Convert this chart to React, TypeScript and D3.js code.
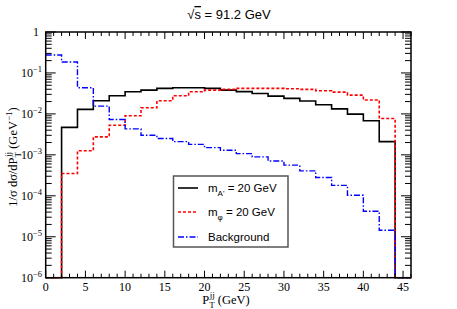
import React from "react";
import * as d3 from "d3";

const binEdges = [0, 2, 4, 6, 8, 10, 12, 14, 16, 18, 20, 22, 24, 26, 28, 30, 32, 34, 36, 38, 40, 42, 44, 46];
const signalA = [0, 0.0047, 0.0129, 0.021, 0.0277, 0.0347, 0.038, 0.042, 0.0435, 0.0435, 0.042, 0.038, 0.035, 0.0316, 0.0272, 0.024, 0.0206, 0.0167, 0.0133, 0.0099, 0.0068, 0.0021, 0];
const signalPhi = [0, 0.00035, 0.00126, 0.00275, 0.0053, 0.009, 0.0141, 0.021, 0.0277, 0.0347, 0.038, 0.0397, 0.042, 0.042, 0.042, 0.041, 0.0397, 0.0367, 0.034, 0.0288, 0.0219, 0.0077, 0];
const background = [0.274, 0.185, 0.0435, 0.0155, 0.0073, 0.0043, 0.003, 0.0025, 0.0021, 0.0018, 0.0015, 0.0013, 0.00107, 0.00089, 0.00071, 0.00056, 0.000407, 0.00028, 0.00018, 0.000103, 0.000042, 0.0000144, 0];
const xTicks = [0, 5, 10, 15, 20, 25, 30, 35, 40, 45];
const yDecades = [0, -1, -2, -3, -4, -5, -6];

const W = 457, H = 309;
const L = 45.7, R = 411, T = 32, B = 277.7;

export default function App() {
  const x = d3.scaleLinear().domain([0, 46]).range([L, R]);
  const y = d3.scaleLog().domain([1e-6, 1]).range([B, T]);
  const yMin = 1e-6;

  const histPath = (vals: number[]) => {
    const pts: [number, number][] = [];
    vals.forEach((v, i) => {
      const vv = Math.max(v, yMin);
      pts.push([x(binEdges[i]), y(vv)]);
      pts.push([x(binEdges[i + 1]), y(vv)]);
    });
    return d3.line()(pts) as string;
  };

  const xMinor = d3.range(0, 47, 1).filter((v) => v % 5 !== 0);
  const yMinor: number[] = [];
  for (let e = -6; e < 0; e++) for (let k = 2; k <= 9; k++) yMinor.push(k * Math.pow(10, e));

  const serif = "'Liberation Serif', 'DejaVu Serif', serif";
  const sans = "'Liberation Sans', Arial, sans-serif";

  const series = [
    { vals: signalA, color: "#000000", dash: "", width: 1.6 },
    { vals: signalPhi, color: "#ff0000", dash: "3,2", width: 1.6 },
    { vals: background, color: "#0000ff", dash: "6,2,1.5,2", width: 1.4 },
  ];

  return (
    <svg width={W} height={H} style={{ position: "absolute", left: 0, top: 0, background: "#fff" }}>
      <rect x={0} y={0} width={W} height={H} fill="#fff" />
      <defs>
        <clipPath id="plotclip">
          <rect x={L} y={T - 1} width={R - L} height={B - T + 2} />
        </clipPath>
      </defs>
      {/* title */}
      <text x={229} y={19} fontFamily={sans} fontSize={13} textAnchor="middle">
        √<tspan textDecoration="overline">s</tspan> = 91.2 GeV
      </text>

      {/* histograms */}
      <g clipPath="url(#plotclip)">
        {series.map((s, i) => (
          <path key={i} d={histPath(s.vals)} fill="none" stroke={s.color} strokeWidth={s.width} strokeDasharray={s.dash || undefined} />
        ))}
      </g>

      {/* frame */}
      <rect x={L} y={T} width={R - L} height={B - T} fill="none" stroke="#000" strokeWidth={1.5} />

      {/* x ticks */}
      {xTicks.map((t) => (
        <g key={"xt" + t}>
          <line x1={x(t)} x2={x(t)} y1={B} y2={B - 7} stroke="#000" strokeWidth={1} />
          <line x1={x(t)} x2={x(t)} y1={T} y2={T + 7} stroke="#000" strokeWidth={1} />
          <text x={x(t)} y={291} fontFamily={serif} fontSize={12} textAnchor="middle">{t}</text>
        </g>
      ))}
      {xMinor.map((t) => (
        <g key={"xm" + t}>
          <line x1={x(t)} x2={x(t)} y1={B} y2={B - 4} stroke="#000" strokeWidth={1} />
          <line x1={x(t)} x2={x(t)} y1={T} y2={T + 4} stroke="#000" strokeWidth={1} />
        </g>
      ))}

      {/* y ticks */}
      {yDecades.map((e) => {
        const v = Math.pow(10, e);
        return (
          <g key={"yt" + e}>
            <line x1={L} x2={L + 10} y1={y(v)} y2={y(v)} stroke="#000" strokeWidth={1} />
            <line x1={R} x2={R - 10} y1={y(v)} y2={y(v)} stroke="#000" strokeWidth={1} />
            {e === 0 ? (
              <text x={39} y={y(v) + 4} fontFamily={serif} fontSize={12} textAnchor="end">1</text>
            ) : (
              <text x={42} y={y(v) + 4} fontFamily={serif} fontSize={12} textAnchor="end">
                10<tspan dy={-5} fontSize={8.5}>{"−" + -e}</tspan>
              </text>
            )}
          </g>
        );
      })}
      {yMinor.map((v, i) => (
        <g key={"ym" + i}>
          <line x1={L} x2={L + 6} y1={y(v)} y2={y(v)} stroke="#000" strokeWidth={1} />
          <line x1={R} x2={R - 6} y1={y(v)} y2={y(v)} stroke="#000" strokeWidth={1} />
        </g>
      ))}

      {/* axis labels */}
      <text x={226} y={304} fontFamily={serif} fontSize={12.5} textAnchor="middle">
        P<tspan dy={4} fontSize={9}>T</tspan><tspan dx={-5} dy={-10} fontSize={9}>jj</tspan><tspan dy={6}> (GeV)</tspan>
      </text>
      <text transform="translate(17,157) rotate(-90)" fontFamily={serif} fontSize={12.5} textAnchor="middle">
        1/σ dσ/dP<tspan dy={4} fontSize={9}>T</tspan><tspan dx={-5} dy={-10} fontSize={9}>jj</tspan><tspan dy={6}> (GeV</tspan><tspan dy={-5} fontSize={9}>−1</tspan><tspan dy={5}>)</tspan>
      </text>

      {/* legend */}
      <rect x={173.5} y={176} width={114.5} height={71} fill="#fff" stroke="#555" strokeWidth={1.5} />
      {[
        { c: series[0], label: "A'", y: 188 },
        { c: series[1], label: "φ", y: 212 },
        { c: series[2], label: "", y: 237 },
      ].map((it, i) => (
        <g key={"lg" + i}>
          <line x1={178} x2={198} y1={it.y} y2={it.y} stroke={it.c.color} strokeWidth={it.c.width} strokeDasharray={it.c.dash || undefined} />
          {i < 2 ? (
            <text x={208} y={it.y + 4} fontFamily={sans} fontSize={11.5}>
              m<tspan dy={4} fontSize={8}>{it.label}</tspan><tspan dy={-4}> = 20 GeV</tspan>
            </text>
          ) : (
            <text x={208} y={it.y + 4} fontFamily={sans} fontSize={11.5}>Background</text>
          )}
        </g>
      ))}
    </svg>
  );
}
